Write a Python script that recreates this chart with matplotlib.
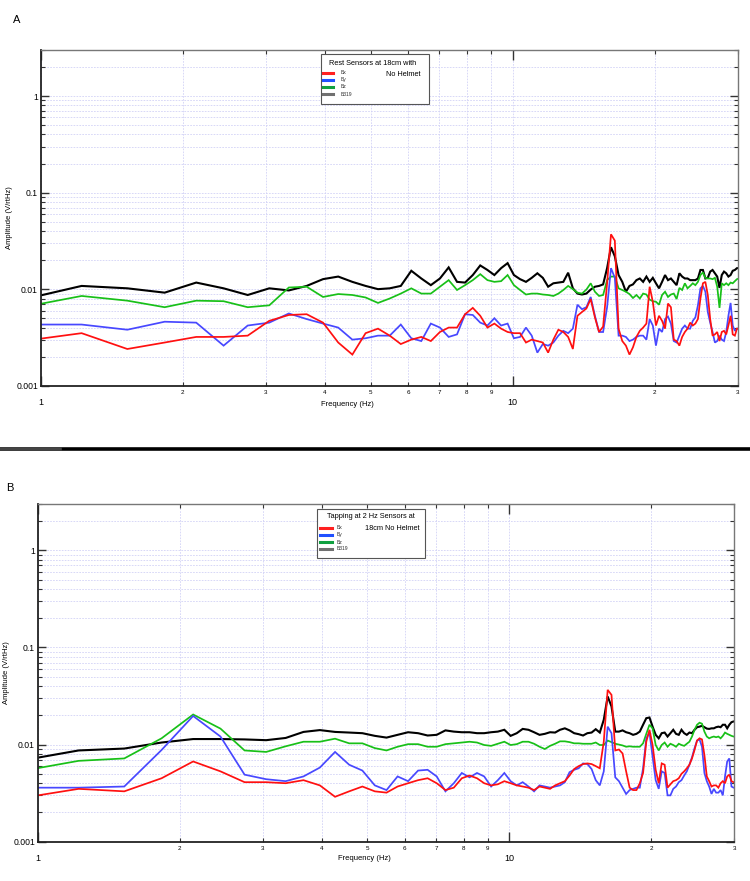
import matplotlib
matplotlib.use("Agg")
import matplotlib.pyplot as plt
from matplotlib.lines import Line2D
from matplotlib.patches import Rectangle
from matplotlib.ticker import FixedLocator, FixedFormatter, NullFormatter

plt.rcParams['font.family'] = ['Liberation Sans', 'DejaVu Sans']

# frequency bins (Hz)
freq = [0.916, 1.221, 1.526, 1.831, 2.136, 2.441, 2.746, 3.051, 3.356, 3.661,
        3.966, 4.271, 4.576, 4.881, 5.186, 5.491, 5.796, 6.101, 6.406, 6.711,
        7.016, 7.321, 7.626, 7.931, 8.236, 8.541, 8.846, 9.151, 9.456, 9.761,
        10.066, 10.371, 10.676, 10.981, 11.286, 11.591, 11.896, 12.201, 12.506, 12.811,
        13.116, 13.421, 13.726, 14.031, 14.336, 14.641, 14.946, 15.251, 15.556, 15.861,
        16.166, 16.471, 16.776, 17.081, 17.386, 17.691, 17.996, 18.301, 18.606, 18.911,
        19.216, 19.521, 19.826, 20.131, 20.436, 20.741, 21.046, 21.351, 21.656, 21.961,
        22.266, 22.571, 22.876, 23.181, 23.486, 23.791, 24.096, 24.401, 24.706, 25.011,
        25.316, 25.621, 25.926, 26.231, 26.536, 26.841, 27.146, 27.451, 27.756, 28.061,
        28.366, 28.671, 28.976, 29.281, 29.586, 29.891, 30.196]

# Panel A - rest, no helmet
rest_bx = [0.0029, 0.0035, 0.0024, 0.0028, 0.0032, 0.0032, 0.0033, 0.0047, 0.0054, 0.0055,
           0.0045, 0.0028, 0.0021, 0.0035, 0.0039, 0.0033, 0.0027, 0.0030, 0.0032, 0.0029,
           0.0036, 0.0040, 0.0040, 0.0055, 0.0064, 0.0053, 0.0040, 0.0044, 0.0039, 0.0036,
           0.0035, 0.0035, 0.0028, 0.0030, 0.0029, 0.0028, 0.0022, 0.0030, 0.0038, 0.0036,
           0.0032, 0.0024, 0.0053, 0.0058, 0.0063, 0.0079, 0.0051, 0.0036, 0.0041, 0.0115,
           0.0370, 0.0318, 0.0039, 0.0029, 0.0026, 0.0021, 0.0025, 0.0032, 0.0037, 0.0040,
           0.0044, 0.0106, 0.0074, 0.0042, 0.0053, 0.0047, 0.0039, 0.0071, 0.0065, 0.0030,
           0.0029, 0.0026, 0.0032, 0.0036, 0.0039, 0.0045, 0.0042, 0.0044, 0.0049, 0.0080,
           0.0115, 0.0119, 0.0087, 0.0049, 0.0033, 0.0034, 0.0036, 0.0029, 0.0036, 0.0037,
           0.0034, 0.0042, 0.0053, 0.0034, 0.0033, 0.0039, 0.0039]
rest_by = [0.0043, 0.0043, 0.0038, 0.0046, 0.0045, 0.0026, 0.0042, 0.0045, 0.0056, 0.0049,
           0.0044, 0.0040, 0.0030, 0.0031, 0.0033, 0.0033, 0.0043, 0.0031, 0.0029, 0.0044,
           0.0040, 0.0032, 0.0034, 0.0055, 0.0054, 0.0045, 0.0042, 0.0050, 0.0042, 0.0044,
           0.0031, 0.0032, 0.0040, 0.0033, 0.0022, 0.0027, 0.0026, 0.0028, 0.0033, 0.0037,
           0.0035, 0.0039, 0.0069, 0.0062, 0.0065, 0.0083, 0.0053, 0.0036, 0.0036, 0.0065,
           0.0165, 0.0131, 0.0033, 0.0033, 0.0032, 0.0029, 0.0030, 0.0032, 0.0033, 0.0033,
           0.0030, 0.0049, 0.0042, 0.0026, 0.0039, 0.0036, 0.0049, 0.0052, 0.0044, 0.0029,
           0.0028, 0.0033, 0.0039, 0.0042, 0.0039, 0.0039, 0.0047, 0.0051, 0.0068, 0.0102,
           0.0108, 0.0094, 0.0058, 0.0045, 0.0036, 0.0028, 0.0029, 0.0033, 0.0030, 0.0029,
           0.0036, 0.0053, 0.0072, 0.0042, 0.0037, 0.0039, 0.0039]
rest_bz = [0.0065, 0.0085, 0.0076, 0.0065, 0.0076, 0.0075, 0.0065, 0.0068, 0.0104, 0.0106,
           0.0083, 0.0089, 0.0087, 0.0082, 0.0072, 0.0080, 0.0090, 0.0102, 0.0090, 0.0090,
           0.0106, 0.0124, 0.0098, 0.0110, 0.0124, 0.0143, 0.0124, 0.0119, 0.0121, 0.0140,
           0.0110, 0.0098, 0.0088, 0.0090, 0.0090, 0.0088, 0.0087, 0.0085, 0.0090, 0.0098,
           0.0108, 0.0100, 0.0092, 0.0090, 0.0099, 0.0115, 0.0094, 0.0085, 0.0087, 0.0124,
           0.0135, 0.0135, 0.0102, 0.0098, 0.0094, 0.0089, 0.0081, 0.0087, 0.0080, 0.0090,
           0.0088, 0.0078, 0.0075, 0.0074, 0.0069, 0.0087, 0.0094, 0.0083, 0.0088, 0.0090,
           0.0079, 0.0103, 0.0098, 0.0115, 0.0102, 0.0108, 0.0115, 0.0110, 0.0119, 0.0140,
           0.0149, 0.0131, 0.0129, 0.0129, 0.0127, 0.0131, 0.0106, 0.0064, 0.0115, 0.0110,
           0.0115, 0.0110, 0.0117, 0.0115, 0.0121, 0.0127, 0.0129]
rest_b319 = [0.0078, 0.0108, 0.0102, 0.0092, 0.0117, 0.0102, 0.0087, 0.0102, 0.0097, 0.0108,
             0.0127, 0.0135, 0.0119, 0.0108, 0.0100, 0.0102, 0.0108, 0.0155, 0.0129, 0.0110,
             0.0129, 0.0168, 0.0119, 0.0117, 0.0140, 0.0176, 0.0158, 0.0140, 0.0165, 0.0186,
             0.0140, 0.0127, 0.0119, 0.0131, 0.0146, 0.0131, 0.0106, 0.0115, 0.0117, 0.0119,
             0.0148, 0.0102, 0.0090, 0.0088, 0.0090, 0.0099, 0.0106, 0.0108, 0.0112, 0.0165,
             0.0272, 0.0219, 0.0140, 0.0119, 0.0094, 0.0108, 0.0112, 0.0124, 0.0129, 0.0119,
             0.0135, 0.0119, 0.0131, 0.0115, 0.0102, 0.0119, 0.0140, 0.0124, 0.0129, 0.0119,
             0.0110, 0.0146, 0.0135, 0.0129, 0.0129, 0.0124, 0.0124, 0.0124, 0.0129, 0.0158,
             0.0158, 0.0129, 0.0131, 0.0152, 0.0158, 0.0146, 0.0135, 0.0103, 0.0140, 0.0152,
             0.0146, 0.0135, 0.0140, 0.0155, 0.0158, 0.0165, 0.0165]

# Panel B - tapping at 2 Hz, no helmet
tap_bx = [0.0028, 0.0035, 0.0033, 0.0045, 0.0067, 0.0053, 0.0041, 0.0041, 0.0040, 0.0043,
          0.0038, 0.0029, 0.0033, 0.0037, 0.0033, 0.0032, 0.0037, 0.0040, 0.0043, 0.0045,
          0.0040, 0.0034, 0.0036, 0.0045, 0.0048, 0.0045, 0.0040, 0.0038, 0.0039, 0.0042,
          0.0040, 0.0038, 0.0037, 0.0036, 0.0034, 0.0037, 0.0036, 0.0035, 0.0038, 0.0040,
          0.0042, 0.0048, 0.0056, 0.0060, 0.0063, 0.0064, 0.0063, 0.0060, 0.0057, 0.0107,
          0.0366, 0.0325, 0.0087, 0.0089, 0.0081, 0.0053, 0.0036, 0.0034, 0.0034, 0.0040,
          0.0051, 0.0107, 0.0142, 0.0099, 0.0055, 0.0040, 0.0064, 0.0062, 0.0036, 0.0039,
          0.0042, 0.0043, 0.0045, 0.0050, 0.0053, 0.0057, 0.0062, 0.0072, 0.0088, 0.0110,
          0.0116, 0.0113, 0.0078, 0.0047, 0.0042, 0.0037, 0.0038, 0.0038, 0.0036, 0.0040,
          0.0042, 0.0040, 0.0047, 0.0049, 0.0042, 0.0041, 0.0041]
tap_by = [0.0036, 0.0036, 0.0037, 0.0088, 0.0197, 0.0121, 0.0049, 0.0044, 0.0042, 0.0047,
          0.0058, 0.0084, 0.0062, 0.0054, 0.0038, 0.0034, 0.0047, 0.0042, 0.0054, 0.0055,
          0.0047, 0.0033, 0.0040, 0.0051, 0.0046, 0.0051, 0.0047, 0.0037, 0.0043, 0.0051,
          0.0042, 0.0038, 0.0041, 0.0037, 0.0033, 0.0038, 0.0037, 0.0036, 0.0037, 0.0038,
          0.0041, 0.0052, 0.0055, 0.0057, 0.0064, 0.0063, 0.0056, 0.0043, 0.0038, 0.0053,
          0.0153, 0.0131, 0.0046, 0.0042, 0.0036, 0.0031, 0.0034, 0.0035, 0.0036, 0.0036,
          0.0057, 0.0116, 0.0133, 0.0075, 0.0043, 0.0035, 0.0053, 0.0051, 0.0030, 0.0030,
          0.0035, 0.0037, 0.0041, 0.0043, 0.0048, 0.0053, 0.0062, 0.0074, 0.0092, 0.0110,
          0.0113, 0.0095, 0.0051, 0.0042, 0.0037, 0.0031, 0.0035, 0.0032, 0.0032, 0.0034,
          0.0030, 0.0047, 0.0067, 0.0072, 0.0037, 0.0036, 0.0036]
tap_bz = [0.0053, 0.0068, 0.0072, 0.0116, 0.0204, 0.0146, 0.0087, 0.0084, 0.0096, 0.0107,
          0.0107, 0.0115, 0.0103, 0.0103, 0.0092, 0.0087, 0.0095, 0.0101, 0.0101, 0.0095,
          0.0095, 0.0101, 0.0103, 0.0105, 0.0107, 0.0105, 0.0099, 0.0097, 0.0102, 0.0107,
          0.0099, 0.0101, 0.0107, 0.0107, 0.0102, 0.0095, 0.0090, 0.0097, 0.0102, 0.0108,
          0.0108, 0.0106, 0.0103, 0.0103, 0.0102, 0.0102, 0.0102, 0.0105, 0.0099, 0.0099,
          0.0110, 0.0106, 0.0102, 0.0100, 0.0098, 0.0095, 0.0096, 0.0095, 0.0095, 0.0095,
          0.0103, 0.0129, 0.0160, 0.0147, 0.0099, 0.0087, 0.0099, 0.0105, 0.0095, 0.0102,
          0.0099, 0.0095, 0.0102, 0.0099, 0.0097, 0.0102, 0.0107, 0.0121, 0.0142, 0.0160,
          0.0168, 0.0164, 0.0136, 0.0121, 0.0116, 0.0119, 0.0121, 0.0119, 0.0121, 0.0116,
          0.0123, 0.0133, 0.0129, 0.0126, 0.0123, 0.0121, 0.0121]
tap_b319 = [0.0068, 0.0087, 0.0091, 0.0105, 0.0114, 0.0114, 0.0113, 0.0111, 0.0117, 0.0135,
            0.0141, 0.0135, 0.0133, 0.0131, 0.0123, 0.0118, 0.0126, 0.0134, 0.0131, 0.0124,
            0.0126, 0.0140, 0.0136, 0.0134, 0.0134, 0.0131, 0.0131, 0.0134, 0.0136, 0.0142,
            0.0123, 0.0131, 0.0145, 0.0142, 0.0134, 0.0126, 0.0129, 0.0134, 0.0133, 0.0142,
            0.0147, 0.0140, 0.0131, 0.0128, 0.0124, 0.0131, 0.0133, 0.0144, 0.0133, 0.0180,
            0.0313, 0.0247, 0.0136, 0.0136, 0.0140, 0.0134, 0.0131, 0.0126, 0.0129, 0.0136,
            0.0160, 0.0187, 0.0190, 0.0153, 0.0126, 0.0116, 0.0131, 0.0133, 0.0121, 0.0131,
            0.0142, 0.0129, 0.0126, 0.0142, 0.0131, 0.0126, 0.0133, 0.0131, 0.0142, 0.0151,
            0.0153, 0.0156, 0.0151, 0.0146, 0.0145, 0.0147, 0.0147, 0.0151, 0.0153, 0.0151,
            0.0160, 0.0160, 0.0147, 0.0160, 0.0170, 0.0173, 0.0173]

series_names = ['Bx', 'By', 'Bz', 'B319']
line_colors = {'Bx': '#ff1010', 'By': '#4848ff', 'Bz': '#18c018', 'B319': '#000000'}
legend_colors = {'Bx': '#ff2020', 'By': '#2050ff', 'Bz': '#10a040', 'B319': '#707070'}

W, H = 750, 881
fig = plt.figure(figsize=(W / 100, H / 100), dpi=100)


def fx(x):
    return x / W


def fy(y):
    return 1 - y / H


def make_panel(left, right, top, bottom, data, xlabel_x, xlabel_top):
    ax = fig.add_axes([fx(left), fy(bottom), (right - left) / W, (bottom - top) / H])
    # black first, red on top
    for name in ['B319', 'Bz', 'By', 'Bx']:
        ax.plot(freq, data[name], color=line_colors[name],
                lw=1.5 if name == 'B319' else 1.25, solid_joinstyle='miter')
    ax.set_xscale('log')
    ax.set_yscale('log')
    ax.set_xlim(1, 30)
    ax.set_ylim(0.001, 3)

    ax.xaxis.set_major_locator(FixedLocator([1, 10]))
    ax.xaxis.set_major_formatter(FixedFormatter(['1', '10']))
    ax.xaxis.set_minor_locator(FixedLocator([2, 3, 4, 5, 6, 7, 8, 9, 20, 30]))
    ax.xaxis.set_minor_formatter(FixedFormatter(['2', '3', '4', '5', '6', '7', '8', '9', '2', '3']))
    ax.yaxis.set_major_locator(FixedLocator([0.001, 0.01, 0.1, 1]))
    ax.yaxis.set_major_formatter(FixedFormatter(['0.001', '0.01', '0.1', '1']))
    ax.yaxis.set_minor_locator(FixedLocator([m * d for d in [0.001, 0.01, 0.1, 1]
                                             for m in range(2, 10) if m * d <= 3]))
    ax.yaxis.set_minor_formatter(NullFormatter())

    ax.tick_params(which='both', direction='in', top=True, right=True, color='#333333')
    ax.tick_params(axis='x', which='major', length=7, width=1.0, pad=9, labelsize=6.5)
    ax.tick_params(axis='x', which='minor', length=3, width=0.8, pad=3, labelsize=4.5)
    ax.tick_params(axis='y', which='major', length=6, width=1.0, pad=2, labelsize=6.2)
    ax.tick_params(axis='y', which='minor', length=3, width=0.8)

    ax.grid(True, which='both', color='#d2d2f6', ls=(0, (2, 1.5)), lw=0.6)
    ax.set_axisbelow(True)
    for s in ['left', 'bottom']:
        ax.spines[s].set_color('#222222')
        ax.spines[s].set_linewidth(1.3)
    for s in ['top', 'right']:
        ax.spines[s].set_color('#777777')
        ax.spines[s].set_linewidth(1.0)

    ax.set_xlabel('Frequency (Hz)', fontsize=5.5)
    ax.xaxis.set_label_coords(xlabel_x, xlabel_top)
    ax.set_ylabel('Amplitude (V/rtHz)', fontsize=5.5)
    ax.yaxis.set_label_coords(-0.040, 0.5)
    return ax


def draw_legend(x0, y0, x1, y1, line1, line1_xc, line1_y, line2, line2_xr, line2_y,
                rows_y, hx0, hx1, tx):
    fig.add_artist(Rectangle((fx(x0), fy(y1)), (x1 - x0) / W, (y1 - y0) / H,
                             transform=fig.transFigure, fc='white', ec='#555555',
                             lw=0.8, zorder=10))
    fig.text(fx(line1_xc), fy(line1_y), line1, fontsize=5.3, ha='center', va='center', zorder=11)
    fig.text(fx(line2_xr), fy(line2_y), line2, fontsize=5.3, ha='right', va='center', zorder=11)
    for name, ry in zip(series_names, rows_y):
        fig.add_artist(Line2D([fx(hx0), fx(hx1)], [fy(ry), fy(ry)], transform=fig.transFigure,
                              color=legend_colors[name], lw=2.2, zorder=11))
        fig.text(fx(tx), fy(ry), name, fontsize=3.6, ha='left', va='center',
                 color='#333333', zorder=11)


data_a = {'Bx': rest_bx, 'By': rest_by, 'Bz': rest_bz, 'B319': rest_b319}
data_b = {'Bx': tap_bx, 'By': tap_by, 'Bz': tap_bz, 'B319': tap_b319}

make_panel(40.7, 737.7, 50, 385.7, data_a, 0.44, -0.045)
make_panel(37.7, 734.3, 504, 841.7, data_b, 0.469, -0.038)

draw_legend(320.7, 54, 429.3, 104, 'Rest Sensors at 18cm with', 372.5, 63.3,
            'No Helmet', 420, 74.3, [72.7, 79.7, 87, 94], 322.7, 333.3, 341)
draw_legend(317.3, 509, 425, 558.3, 'Tapping at 2 Hz Sensors at', 370.7, 516,
            '18cm No Helmet', 419.3, 528.3, [527.7, 534.7, 542, 549], 320, 331.7, 336.7)

# separator between panels, grey at the far left fading to black
fig.add_artist(Line2D([0, 1], [fy(449), fy(449)], transform=fig.transFigure,
                      color='black', lw=2.6))
fig.add_artist(Line2D([0, fx(60)], [fy(449), fy(449)], transform=fig.transFigure,
                      color='#444444', lw=2.6))

fig.text(fx(13), fy(20), 'A', fontsize=8, va='center')
fig.text(fx(6), fy(488), 'B', fontsize=8, va='center')

fig.savefig('out.png', dpi=100)
